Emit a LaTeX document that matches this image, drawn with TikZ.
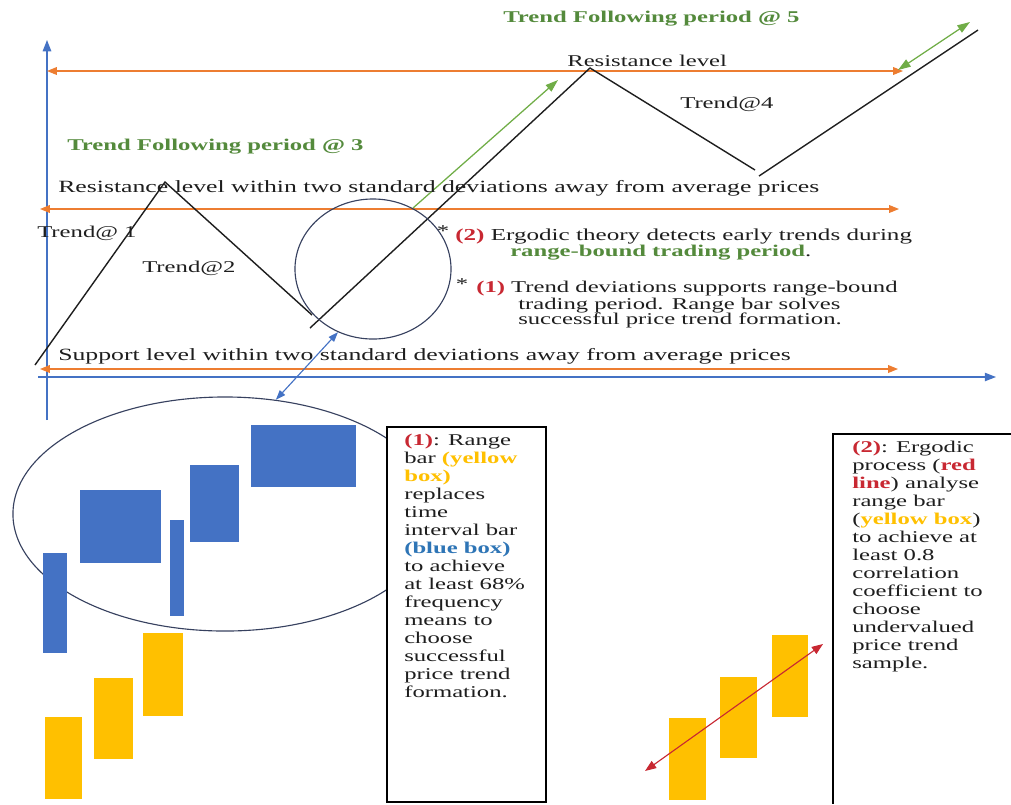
\documentclass[tikz,border=0pt]{standalone}
\usepackage{fontspec}
\setmainfont{Liberation Serif}[FakeStretch=1.5]
\usepackage{xcolor}
\usepackage{tikz}
\usetikzlibrary{arrows.meta,shapes.geometric}
\definecolor{axisblue}{RGB}{68,114,196}
\definecolor{barblue}{RGB}{68,114,196}
\definecolor{baryellow}{RGB}{255,192,0}
\definecolor{levelorange}{RGB}{237,125,49}
\definecolor{trendline}{RGB}{112,173,71}
\definecolor{trendgreen}{RGB}{84,138,60}
\definecolor{alertred}{RGB}{200,40,50}
\definecolor{labelblue}{RGB}{46,117,182}
\definecolor{ringcol}{RGB}{55,65,95}
\definecolor{ink}{RGB}{30,30,30}

\begin{document}
\begin{tikzpicture}[x=0.025cm,y=-0.025cm,font=\fontsize{11.7}{12.8}\selectfont,text=ink,
  level/.style={draw=levelorange,line width=0.8pt,{Triangle[length=7pt,width=5.5pt]}-{Triangle[length=7pt,width=5.5pt]}},
  axis/.style={draw=axisblue,line width=0.9pt,-{Triangle[length=8pt,width=6pt]}},
  zig/.style={draw=ink,line width=1pt},
  trendarrow/.style={draw=trendline,line width=0.9pt},
  ringline/.style={draw=ringcol,line width=0.8pt,ellipse,inner sep=0pt},
  boxtext/.style={align=left,inner sep=0pt},
  lbl/.style={anchor=west,inner sep=0pt},
  band/.style={anchor=west,inner sep=0pt,font=\fontsize{12.2}{13}\selectfont}]
  \useasboundingbox (0,0) rectangle (1011,804);
  % axes
  \coordinate (yfoot) at (47,420);
  \coordinate (ytop) at (47,40);
  \coordinate (xfoot) at (38,377);
  \coordinate (xend) at (996,377);
  \draw[axis] (yfoot) -- (ytop);
  \draw[axis] (xfoot) -- (xend);
  % resistance and support levels
  \coordinate (rtl) at (47,71);  \coordinate (rtr) at (903,71);
  \coordinate (rml) at (40,209); \coordinate (rmr) at (899,209);
  \coordinate (sbl) at (40,369); \coordinate (sbr) at (898,369);
  \draw[level] (rtl) -- (rtr);
  \draw[level] (rml) -- (rmr);
  \draw[level] (sbl) -- (sbr);
  % price path
  \coordinate (a0) at (35,365);  \coordinate (a1) at (165,182); \coordinate (a2) at (312,315);
  \coordinate (b0) at (310,328); \coordinate (b1) at (590,68);  \coordinate (b2) at (755,170);
  \coordinate (c0) at (759,176); \coordinate (c1) at (978,30);
  \draw[zig] (a0) -- (a1) -- (a2);
  \draw[zig] (b0) -- (b1) -- (b2);
  \draw[zig] (c0) -- (c1);
  % trend following arrows
  \coordinate (g0) at (413,208); \coordinate (g1) at (558,80);
  \coordinate (h0) at (898,70);  \coordinate (h1) at (970,22);
  \draw[trendarrow,-{Triangle[length=9pt,width=6pt]}] (g0) -- (g1);
  \draw[trendarrow,{Triangle[length=9pt,width=6pt]}-{Triangle[length=9pt,width=6pt]}] (h0) -- (h1);
  % labels on the chart
  \node[lbl,text=trendgreen,font=\fontsize{11.7}{12.8}\selectfont\bfseries] (tf5) at (503,19) {Trend Following period @ 5};
  \node[lbl,text=trendgreen,font=\fontsize{11.7}{12.8}\selectfont\bfseries] (tf3) at (67,147) {Trend Following period @ 3};
  \node[lbl] (reslvl) at (567,61) {Resistance level};
  \node[lbl] (t4) at (680,104) {Trend@4};
  \node[band] (resband) at (58,188) {Resistance level within two standard deviations away from average prices};
  \node[band] (supband) at (58,356) {Support level within two standard deviations away from average prices};
  \node[lbl] (t1) at (37,233) {Trend@ 1};
  \node[lbl] (t2) at (142,268) {Trend@2};
  % notes beside the ring
  \node (startwo) at (443,231) {*};
  \node[lbl,font=\fontsize{11.9}{12.8}\selectfont] (notetwo) at (455,236) {\textcolor{alertred}{\textbf{(2)}} Ergodic theory detects early trends during};
  \node[lbl] (notetwob) at (510,253) {\textcolor{trendgreen}{\textbf{range-bound trading period}}.};
  \node (starone) at (462,284) {*};
  \node[lbl] (noteone) at (476,289) {\textcolor{alertred}{\textbf{(1)}} Trend deviations supports range-bound};
  \node[lbl,align=left] (noteoneb) at (518,313) {trading period. Range bar solves\\[-2pt]successful price trend formation.};
  % rings
  \node[ringline,minimum width=3.9cm,minimum height=3.5cm] (ring) at (373,269) {};
  \node[ringline,minimum width=10.6cm,minimum height=5.85cm] (lens) at (225,514) {};
  \draw[draw=axisblue,line width=0.8pt,{Triangle[length=7pt,width=5pt]}-{Triangle[length=7pt,width=5pt]}] (ring.241) -- (lens.66);
  % time interval bars
  \fill[barblue] (43,553) rectangle (67,653);
  \fill[barblue] (80,490) rectangle (161,563);
  \fill[barblue] (170,520) rectangle (184,616);
  \fill[barblue] (190,465) rectangle (239,542);
  \fill[barblue] (251,425) rectangle (356,487);
  % range bars
  \fill[baryellow] (45,717) rectangle (82,799);
  \fill[baryellow] (94,678) rectangle (133,759);
  \fill[baryellow] (143,633) rectangle (183,716);
  \fill[baryellow] (669,718) rectangle (706,800);
  \fill[baryellow] (720,677) rectangle (757,758);
  \fill[baryellow] (772,635) rectangle (808,717);
  % ergodic line
  \coordinate (e0) at (645,771); \coordinate (e1) at (823,644);
  \draw[draw=alertred,line width=0.8pt,{Triangle[length=8pt,width=6pt]}-{Triangle[length=8pt,width=6pt]}] (e0) -- (e1);
  % box one
  \draw[fill=white,line width=1pt] (387,427) rectangle (546,802);
  \node[boxtext,anchor=north west] (boxone) at (404,434)
    {\textcolor{alertred}{\textbf{(1)}}: Range\\bar \textcolor{baryellow}{\textbf{(yellow}}\\\textcolor{baryellow}{\textbf{box)}}\\replaces\\time\\interval bar\\\textcolor{labelblue}{\textbf{(blue box)}}\\to achieve\\at least 68\%\\frequency\\means to\\choose\\successful\\price trend\\formation.};
  % box two
  \draw[line width=1pt] (1011,434) -- (833,434) -- (833,804);
  \node[boxtext,anchor=north west] (boxtwo) at (852,441)
    {\textcolor{alertred}{\textbf{(2)}}: Ergodic\\process (\textcolor{alertred}{\textbf{red}}\\\textcolor{alertred}{\textbf{line}}) analyse\\range bar\\(\textcolor{baryellow}{\textbf{yellow box}})\\to achieve at\\least 0.8\\correlation\\coefficient to\\choose\\undervalued\\price trend\\sample.};
\end{tikzpicture}
\end{document}
